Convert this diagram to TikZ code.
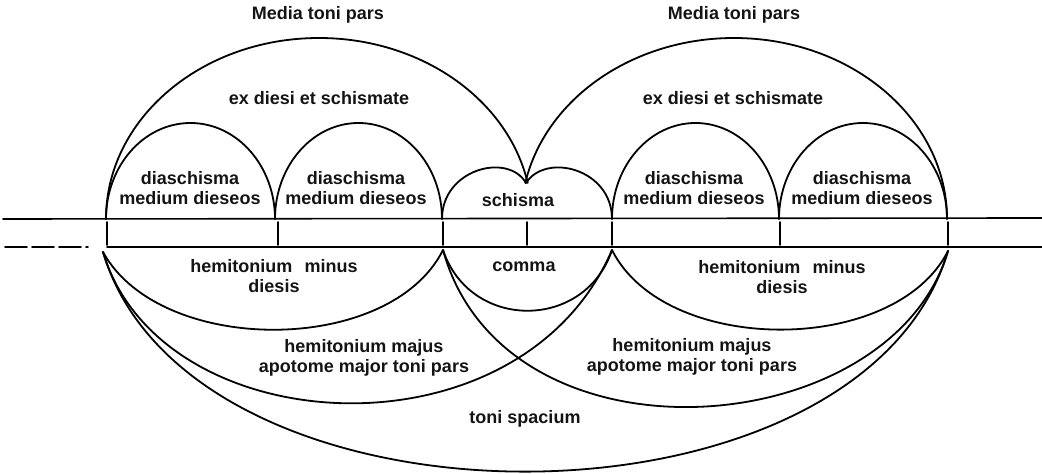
\documentclass[tikz,border=0pt]{standalone}
\usepackage{fontspec}
\newfontfamily\lab{Liberation Sans}
\begin{document}
\begin{tikzpicture}[x=1pt,y=1pt,line width=1.8pt,line cap=round,
  lbl/.style={font=\lab\bfseries\fontsize{18}{19.5}\selectfont,align=center,inner sep=0pt,text=black!92},
  rule/.style={line width=1.6pt},
  tick/.style={line width=1.8pt}]
\useasboundingbox (0,0) rectangle (1042,474);
% reference points on the upper line
\coordinate (L0) at (106,255);
\coordinate (L1) at (275,255);
\coordinate (L2) at (442,255);
\coordinate (R2) at (612,255);
\coordinate (R1) at (779,255);
\coordinate (R0) at (947,255);
\coordinate (V) at (526,291);
% reference points below the lower line
\coordinate (l0) at (103,222);
\coordinate (l2) at (443,224);
\coordinate (r2) at (612,224);
\coordinate (r0) at (948,223);
% horizontal rules
\coordinate (ul) at (3,255);
\coordinate (ur) at (1042,256);
\coordinate (ll) at (5,227);
\coordinate (lm) at (88,227);
\coordinate (lb) at (107,227);
\coordinate (lr) at (1042,227);
\draw[rule] (ul) -- (ur);
\draw[rule,dash pattern=on 22pt off 5pt] (ll) -- (lm);
\draw[rule] (lb) -- (lr);
\foreach \x in {107,278,443,527,612,780,948} \draw[tick] (\x,252) -- (\x,229);
% upper arcs
\draw (L0) arc[start angle=180,end angle=11.5,x radius=213,y radius=181];
\draw (R0) arc[start angle=0,end angle=168.5,x radius=213,y radius=181];
\draw (L0) arc[start angle=180,end angle=0,x radius=84.5,y radius=96];
\draw (L1) arc[start angle=180,end angle=0,x radius=83.5,y radius=96];
\draw (R2) arc[start angle=180,end angle=0,x radius=83.5,y radius=96];
\draw (R1) arc[start angle=180,end angle=0,x radius=84,y radius=96];
\draw (L2) .. controls (442,305) and (508,322) .. (V);
\draw (V) .. controls (546,322) and (612,305) .. (R2);
% lower arcs
\draw (l0) .. controls (160,118) and (390,118) .. (l2);
\draw (l2) .. controls (470,143) and (585,143) .. (r2);
\draw (r2) .. controls (665,118) and (895,118) .. (r0);
\draw (l0) .. controls (160,30) and (520,10) .. (r2);
\draw (l2) .. controls (505,0) and (891,30) .. (r0);
\draw (l0) .. controls (190,-71) and (861,-71) .. (r0);
% labels
\node[lbl] (mtpL) at (318,459) {Media toni pars};
\node[lbl] (mtpR) at (734,459) {Media toni pars};
\node[lbl] (exL) at (319,376) {ex diesi et schismate};
\node[lbl] (exR) at (733,376) {ex diesi et schismate};
\node[lbl] (d1) at (190,286) {diaschisma\\medium dieseos};
\node[lbl] (d2) at (356,286) {diaschisma\\medium dieseos};
\node[lbl] (d3) at (694,286) {diaschisma\\medium dieseos};
\node[lbl] (d4) at (862,286) {diaschisma\\medium dieseos};
\node[lbl] (sch) at (518,274) {schisma};
\node[lbl] (com) at (524,207) {comma};
\node[lbl] (hmL) at (274,198) {hemitonium\hspace{0.4em} minus\\diesis};
\node[lbl] (hmR) at (782,197) {hemitonium\hspace{0.4em} minus\\diesis};
\node[lbl] (hjL) at (364,116) {hemitonium majus\\apotome major toni pars};
\node[lbl] (hjR) at (692,117) {hemitonium majus\\apotome major toni pars};
\node[lbl] (ts) at (525,55) {toni spacium};
\end{tikzpicture}
\end{document}
